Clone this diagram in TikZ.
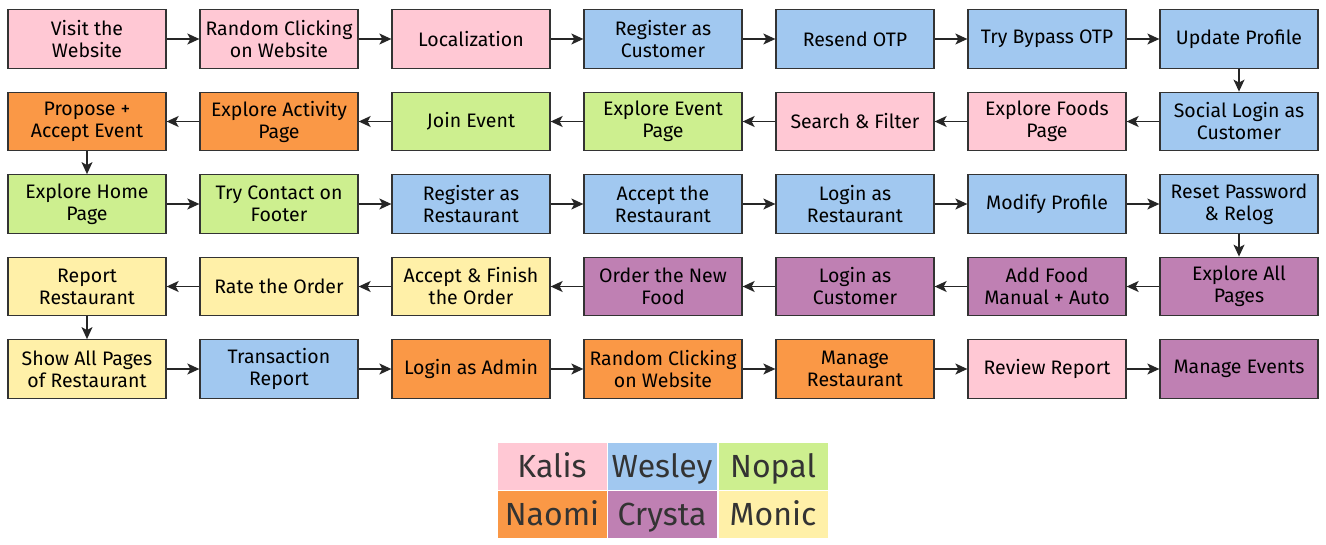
\documentclass[tikz,border=0pt]{standalone}
\usepackage{fontspec}
\setmainfont{Fira Sans}
\usetikzlibrary{arrows.meta}
\definecolor{cpink}{HTML}{FFC8D4}
\definecolor{cblue}{HTML}{A1C8F0}
\definecolor{cgreen}{HTML}{CDEF8F}
\definecolor{corange}{HTML}{FA9846}
\definecolor{cpurple}{HTML}{BF80B3}
\definecolor{cyellow}{HTML}{FFF0A8}
\definecolor{cborder}{HTML}{333333}
\tikzset{
  x=1pt,y=-1pt,
  proc/.style={draw=cborder,line width=1.3pt,minimum width=158pt,minimum height=58.5pt,inner sep=0pt,align=center,font=\fontsize{19.5}{22}\selectfont,text=black},
  leg/.style={minimum width=110pt,minimum height=48pt,inner sep=0pt,draw=white,line width=0.5pt,font=\fontsize{32}{36}\selectfont,text=cborder,text height=22pt,text depth=0pt},
  conn/.style={-{Stealth[length=12pt,width=11pt,inset=3pt]},line width=1.3pt,draw=black!85},
}
\begin{document}
\begin{tikzpicture}
\useasboundingbox[fill=white] (0,0) rectangle (1326,544);
% row 1
\node[proc,fill=cpink] (a1) at (87,39) {Visit the\\Website};
\node[proc,fill=cpink] (a2) at (279,39) {Random Clicking\\on Website};
\node[proc,fill=cpink] (a3) at (471,39) {Localization};
\node[proc,fill=cblue] (a4) at (663,39) {Register as\\Customer};
\node[proc,fill=cblue] (a5) at (855,39) {Resend OTP};
\node[proc,fill=cblue] (a6) at (1047,39) {Try Bypass OTP};
\node[proc,fill=cblue] (a7) at (1239,39) {Update Profile};
% row 2
\node[proc,fill=corange] (b1) at (87,121.5) {Propose +\\Accept Event};
\node[proc,fill=corange] (b2) at (279,121.5) {Explore Activity\\Page};
\node[proc,fill=cgreen] (b3) at (471,121.5) {Join Event};
\node[proc,fill=cgreen] (b4) at (663,121.5) {Explore Event\\Page};
\node[proc,fill=cpink] (b5) at (855,121.5) {Search \& Filter};
\node[proc,fill=cpink] (b6) at (1047,121.5) {Explore Foods\\Page};
\node[proc,fill=cblue] (b7) at (1239,121.5) {Social Login as\\Customer};
% row 3
\node[proc,fill=cgreen] (c1) at (87,204) {Explore Home\\Page};
\node[proc,fill=cgreen] (c2) at (279,204) {Try Contact on\\Footer};
\node[proc,fill=cblue] (c3) at (471,204) {Register as\\Restaurant};
\node[proc,fill=cblue] (c4) at (663,204) {Accept the\\Restaurant};
\node[proc,fill=cblue] (c5) at (855,204) {Login as\\Restaurant};
\node[proc,fill=cblue] (c6) at (1047,204) {Modify Profile};
\node[proc,fill=cblue] (c7) at (1239,204) {Reset Password\\\& Relog};
% row 4
\node[proc,fill=cyellow] (d1) at (87,286.5) {Report\\Restaurant};
\node[proc,fill=cyellow] (d2) at (279,286.5) {Rate the Order};
\node[proc,fill=cyellow] (d3) at (471,286.5) {Accept \& Finish\\the Order};
\node[proc,fill=cpurple] (d4) at (663,286.5) {Order the New\\Food};
\node[proc,fill=cpurple] (d5) at (855,286.5) {Login as\\Customer};
\node[proc,fill=cpurple] (d6) at (1047,286.5) {Add Food\\Manual + Auto};
\node[proc,fill=cpurple] (d7) at (1239,286.5) {Explore All\\Pages};
% row 5
\node[proc,fill=cyellow] (e1) at (87,369) {Show All Pages\\of Restaurant};
\node[proc,fill=cblue] (e2) at (279,369) {Transaction\\Report};
\node[proc,fill=corange] (e3) at (471,369) {Login as Admin};
\node[proc,fill=corange] (e4) at (663,369) {Random Clicking\\on Website};
\node[proc,fill=corange] (e5) at (855,369) {Manage\\Restaurant};
\node[proc,fill=cpink] (e6) at (1047,369) {Review Report};
\node[proc,fill=cpurple] (e7) at (1239,369) {Manage Events};
% connectors
\foreach \r in {a,c,e}{
  \foreach \i [evaluate=\i as \j using int(\i+1)] in {1,...,6}{
    \draw[conn] (\r\i) -- (\r\j);
  }
}
\foreach \r in {b,d}{
  \foreach \i [evaluate=\i as \j using int(\i+1)] in {1,...,6}{
    \draw[conn] (\r\j) -- (\r\i);
  }
}
\draw[conn] (a7) -- (b7);
\draw[conn] (b1) -- (c1);
\draw[conn] (c7) -- (d7);
\draw[conn] (d1) -- (e1);
% legend
\node[leg,fill=cpink] (k1) at (552,466) {Kalis};
\node[leg,fill=cblue] (k2) at (662,466) {Wesley};
\node[leg,fill=cgreen] (k3) at (773,466) {Nopal};
\node[leg,fill=corange] (k4) at (552,514) {Naomi};
\node[leg,fill=cpurple] (k5) at (662,514) {Crysta};
\node[leg,fill=cyellow] (k6) at (773,514) {Monic};
\end{tikzpicture}
\end{document}
